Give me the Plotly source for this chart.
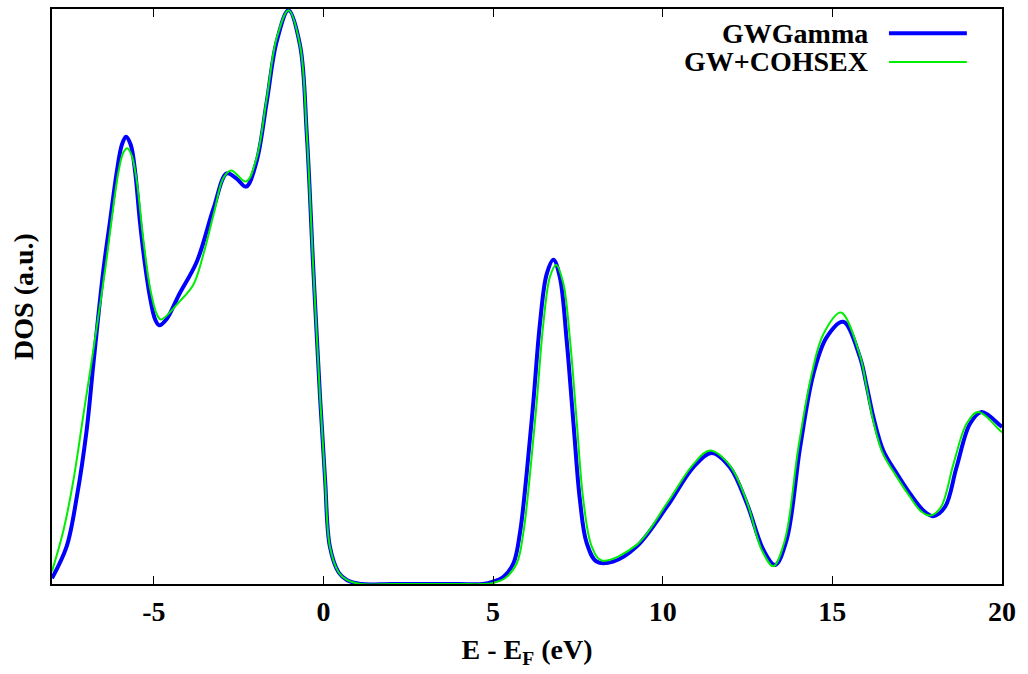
import plotly.graph_objects as go

# GWGamma (blue)
e_gwg = [-8.0, -7.57, -7.27, -6.98, -6.78, -6.49, -6.29, -6.09, -5.94, -5.82, -5.68, -5.55,
         -5.41, -5.26, -5.11, -4.96, -4.84, -4.62, -4.25, -3.73, -3.24, -2.85, -2.56, -2.28,
         -1.97, -1.67, -1.38, -1.03, -0.69, -0.49, -0.30, -0.10, 0.05, 0.19, 0.45, 0.69, 1.1,
         2.0, 3.0, 4.0, 4.7, 5.0, 5.30, 5.60, 5.79, 5.99, 6.19, 6.38, 6.58, 6.78, 6.97, 7.17,
         7.37, 7.56, 7.76, 8.05, 8.54, 9.23, 10.12, 10.90, 11.44, 11.98, 12.48, 12.97, 13.31,
         13.65, 14.05, 14.44, 14.83, 15.32, 15.81, 16.01, 16.21, 16.50, 16.90, 17.29, 17.68,
         17.97, 18.32, 18.66, 19.06, 19.40, 19.94, 20.0]
dos_gwg = [0.010, 0.065, 0.151, 0.267, 0.383, 0.544, 0.631, 0.717, 0.764, 0.778, 0.764, 0.717,
           0.631, 0.556, 0.498, 0.460, 0.450, 0.461, 0.504, 0.561, 0.653, 0.714, 0.705, 0.691,
           0.735, 0.839, 0.943, 0.998, 0.937, 0.782, 0.550, 0.325, 0.180, 0.065, 0.020, 0.007, 0.0,
           0.0, 0.0, 0.0, 0.0, 0.004, 0.012, 0.036, 0.088, 0.192, 0.319, 0.452, 0.539, 0.564, 0.533, 0.423,
           0.279, 0.146, 0.071, 0.039, 0.039, 0.065, 0.134, 0.203, 0.228, 0.203, 0.140, 0.059, 0.033,
           0.076, 0.238, 0.365, 0.429, 0.456, 0.395, 0.345, 0.290, 0.232, 0.192, 0.157, 0.128,
           0.118, 0.134, 0.203, 0.279, 0.299, 0.276, 0.273]

# GW+COHSEX (green)
e_coh = [-8.0, -7.66, -7.37, -7.07, -6.83, -6.44, -6.04, -5.90, -5.78, -5.65, -5.50, -5.31,
         -5.11, -4.91, -4.79, -4.23, -3.83, -3.54, -3.24, -2.95, -2.72, -2.28, -1.97, -1.67,
         -1.38, -1.03, -0.69, -0.49, -0.30, -0.10, 0.05, 0.19, 0.45, 0.69, 1.1, 2.0, 3.0, 4.0,
         4.7, 5.0, 5.35, 5.70, 5.89, 6.09, 6.29, 6.48, 6.68, 6.86, 7.07, 7.27, 7.47, 7.66, 7.91,
         8.20, 9.23, 10.12, 10.90, 11.39, 11.98, 12.48, 12.92, 13.26, 13.60, 14.00, 14.39, 14.73,
         15.25, 15.81, 16.00, 16.20, 16.48, 16.88, 17.27, 17.62, 17.88, 18.20, 18.57, 18.96,
         19.30, 19.94, 20.0]
dos_coh = [0.022, 0.094, 0.180, 0.296, 0.388, 0.544, 0.717, 0.750, 0.758, 0.745, 0.700, 0.600,
           0.515, 0.469, 0.460, 0.492, 0.521, 0.573, 0.642, 0.706, 0.719, 0.700, 0.741, 0.845,
           0.949, 0.998, 0.937, 0.782, 0.550, 0.325, 0.180, 0.065, 0.020, 0.007, 0.0, 0.0, 0.0, 0.0,
           0.0, 0.002, 0.010, 0.036, 0.088, 0.192, 0.319, 0.452, 0.535, 0.555, 0.523, 0.423, 0.279, 0.146, 0.065,
           0.041, 0.068, 0.140, 0.208, 0.232, 0.206, 0.143, 0.059, 0.031, 0.076, 0.238, 0.365, 0.434,
           0.472, 0.398, 0.345, 0.285, 0.228, 0.188, 0.153, 0.126, 0.119, 0.134, 0.209, 0.279,
           0.299, 0.267, 0.264]

x_ticks = [-5, 0, 5, 10, 15, 20]
x_tick_labels = ["-5", "0", "5", "10", "15", "20"]
series_names = ["GWGamma", "GW+COHSEX"]
colors = ["#0000ff", "#00ee00"]
widths = [4, 2]

FONT = "Liberation Serif"
FS = 28

fig = go.Figure()
fig.add_trace(go.Scatter(x=e_gwg, y=dos_gwg, mode="lines", name=series_names[0],
                         line=dict(color=colors[0], width=widths[0], shape="spline", smoothing=1.0)))
fig.add_trace(go.Scatter(x=e_coh, y=dos_coh, mode="lines", name=series_names[1],
                         line=dict(color=colors[1], width=widths[1], shape="spline", smoothing=1.0)))

fig.update_layout(
    width=1028, height=674,
    margin=dict(l=52, r=26, t=7, b=90),
    paper_bgcolor="white", plot_bgcolor="white",
    showlegend=False,
    font=dict(family=FONT, size=FS, color="black"),
)
fig.update_xaxes(
    range=[-8, 20], tickvals=x_ticks, ticktext=["<b>%s</b>" % t for t in x_tick_labels],
    ticks="inside", ticklen=8, tickwidth=1, tickcolor="black",
    showline=True, linecolor="black", linewidth=2, mirror="ticks",
    showgrid=False, zeroline=False, ticklabelstandoff=1,
    tickfont=dict(family=FONT, size=FS, color="black"),
    title=dict(text="<b>E - E<sub>F</sub> (eV)</b>", font=dict(family=FONT, size=FS), standoff=14),
)
fig.update_yaxes(
    range=[0, 1.0], showticklabels=False, ticks="",
    showline=True, linecolor="black", linewidth=2, mirror=True,
    showgrid=False, zeroline=False,
    title=dict(text="<b>DOS (a.u.)</b>", font=dict(family=FONT, size=FS), standoff=8),
)

# manual legend (gnuplot style: text right-aligned, sample line to the right)
leg_y = [0.958, 0.908]
for i in range(2):
    fig.add_annotation(x=0.861, y=leg_y[i], xref="paper", yref="paper", xanchor="right",
                       yanchor="middle", text="<b>%s</b>" % series_names[i], showarrow=False,
                       font=dict(family=FONT, size=FS, color="black"))
    fig.add_shape(type="line", xref="paper", yref="paper", x0=0.881, x1=0.963,
                  y0=leg_y[i], y1=leg_y[i], line=dict(color=colors[i], width=widths[i]))

fig.write_html("out.html")
